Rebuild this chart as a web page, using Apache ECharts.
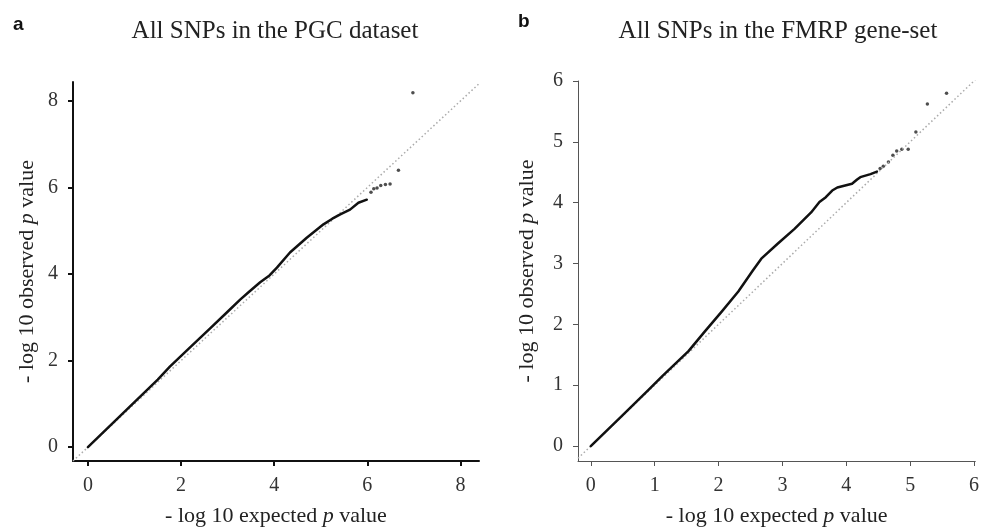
<!DOCTYPE html>
<html>
<head>
<meta charset="utf-8">
<script src="https://cdn.jsdelivr.net/npm/echarts@6/dist/echarts.min.js"></script>
<style>
html,body{margin:0;padding:0;background:#fff;}
#c{width:982px;height:532px;}
</style>
</head>
<body>
<div id="c"></div>
<script>
// Panel a: all SNPs in the PGC dataset
var pgcExpected = [0, 0.5, 1, 1.5, 1.76, 2.2, 2.62, 3.0, 3.27, 3.45, 3.70, 3.9, 4.06, 4.34, 4.70, 5.06, 5.25, 5.42, 5.63, 5.81, 5.99];
var pgcObserved = [0, 0.52, 1.04, 1.56, 1.86, 2.31, 2.74, 3.13, 3.41, 3.58, 3.81, 3.97, 4.15, 4.50, 4.84, 5.15, 5.28, 5.38, 5.49, 5.65, 5.72];
var pgcTailExpected = [6.08, 6.14, 6.21, 6.29, 6.39, 6.49, 6.67, 6.98];
var pgcTailObserved = [5.89, 5.97, 5.99, 6.05, 6.07, 6.08, 6.40, 8.19];
var pgcDiagonal = [-0.32, 8.4];
var pgcTicks = [0, 2, 4, 6, 8];

// Panel b: all SNPs in the FMRP gene-set
var fmrpExpected = [0, 0.5, 0.9, 1.12, 1.53, 1.79, 2.05, 2.31, 2.54, 2.67, 2.93, 3.19, 3.45, 3.58, 3.68, 3.78, 3.86, 4.09, 4.17, 4.22, 4.38, 4.48];
var fmrpObserved = [0, 0.51, 0.92, 1.15, 1.56, 1.89, 2.21, 2.54, 2.89, 3.08, 3.33, 3.57, 3.84, 4.01, 4.09, 4.20, 4.25, 4.31, 4.38, 4.42, 4.47, 4.51];
var fmrpTailExpected = [4.53, 4.58, 4.66, 4.73, 4.79, 4.87, 4.97, 5.09, 5.27, 5.57];
var fmrpTailObserved = [4.56, 4.60, 4.67, 4.78, 4.85, 4.88, 4.88, 5.16, 5.62, 5.80];
var fmrpDiagonal = [-0.2, 6.02];
var fmrpTicks = [0, 1, 2, 3, 4, 5, 6];

var titles = ['All SNPs in the PGC dataset', 'All SNPs in the FMRP gene-set'];
var panelLetters = ['a', 'b'];
var xName = '- log 10 expected {i|p} value';
var yName = '- log 10 observed {i|p} value';

function zip(xs, ys) { return xs.map(function (x, i) { return [x, ys[i]]; }); }

var serif = '"Liberation Serif", "DejaVu Serif", serif';
var richName = { i: { fontStyle: 'italic', fontFamily: serif, fontSize: 22, color: '#222' } };

function xAxis(idx, min, max, ticks, lineColor, lineWidth) {
  return {
    type: 'value', gridIndex: idx, min: min, max: max,
    name: xName, nameLocation: 'middle', nameGap: 44,
    nameTextStyle: { fontFamily: serif, fontSize: 22, color: '#222', rich: richName },
    axisLine: { show: true, onZero: false, lineStyle: { color: lineColor, width: lineWidth } },
    axisTick: { show: true, length: 5, customValues: ticks, lineStyle: { color: lineColor, width: lineWidth } },
    axisLabel: { customValues: ticks, margin: 15, fontFamily: serif, fontSize: 20, color: '#333' },
    splitLine: { show: false }
  };
}
function yAxis(idx, min, max, ticks, lineColor, lineWidth, gap) {
  return {
    type: 'value', gridIndex: idx, min: min, max: max,
    name: yName, nameLocation: 'middle', nameGap: gap,
    nameTextStyle: { fontFamily: serif, fontSize: 22, color: '#222', rich: richName },
    axisLine: { show: true, onZero: false, lineStyle: { color: lineColor, width: lineWidth } },
    axisTick: { show: true, length: 5, customValues: ticks, lineStyle: { color: lineColor, width: lineWidth } },
    axisLabel: { customValues: ticks, margin: 15, fontFamily: serif, fontSize: 20, color: '#333' },
    splitLine: { show: false }
  };
}

var chart = echarts.init(document.getElementById('c'));
chart.setOption({
  backgroundColor: '#fff',
  animation: false,
  title: [
    { text: titles[0], left: 270, top: 14, textAlign: 'center', textStyle: { fontFamily: serif, fontSize: 25, fontWeight: 'normal', color: '#222' } },
    { text: titles[1], left: 773, top: 14, textAlign: 'center', textStyle: { fontFamily: serif, fontSize: 25, fontWeight: 'normal', color: '#222' } },
    { text: panelLetters[0], left: 8, top: 10, textStyle: { fontFamily: '"Liberation Sans", Arial, sans-serif', fontSize: 19, fontWeight: 'bold', color: '#111' } },
    { text: panelLetters[1], left: 513, top: 7, textStyle: { fontFamily: '"Liberation Sans", Arial, sans-serif', fontSize: 19, fontWeight: 'bold', color: '#111' } }
  ],
  grid: [
    { left: 73, top: 82, width: 406, height: 381 },
    { left: 578, top: 81, width: 401, height: 383 }
  ],
  xAxis: [
    xAxis(0, pgcDiagonal[0], pgcDiagonal[1], pgcTicks, '#111', 2),
    xAxis(1, fmrpDiagonal[0], fmrpDiagonal[1], fmrpTicks, '#555', 1)
  ],
  yAxis: [
    yAxis(0, -0.32, 8.44, pgcTicks, '#111', 2, 35),
    yAxis(1, -0.245, 6.0, fmrpTicks, '#555', 1, 40)
  ],
  series: [
    { type: 'line', xAxisIndex: 0, yAxisIndex: 0, data: zip(pgcDiagonal, pgcDiagonal), symbol: 'none',
      lineStyle: { color: '#aaa', width: 1.5, type: [1.5, 2.5] } },
    { type: 'line', xAxisIndex: 0, yAxisIndex: 0, data: zip(pgcExpected, pgcObserved), symbol: 'none',
      lineStyle: { color: '#111', width: 2.5, join: 'round', cap: 'round' } },
    { type: 'scatter', xAxisIndex: 0, yAxisIndex: 0, data: zip(pgcTailExpected, pgcTailObserved), symbolSize: 3.5,
      itemStyle: { color: '#222' } },
    { type: 'line', xAxisIndex: 1, yAxisIndex: 1, data: zip(fmrpDiagonal, fmrpDiagonal), symbol: 'none',
      lineStyle: { color: '#aaa', width: 1.5, type: [1.5, 2.5] } },
    { type: 'line', xAxisIndex: 1, yAxisIndex: 1, data: zip(fmrpExpected, fmrpObserved), symbol: 'none',
      lineStyle: { color: '#111', width: 2.5, join: 'round', cap: 'round' } },
    { type: 'scatter', xAxisIndex: 1, yAxisIndex: 1, data: zip(fmrpTailExpected, fmrpTailObserved), symbolSize: 3.5,
      itemStyle: { color: '#222' } }
  ]
});
</script>
</body>
</html>
